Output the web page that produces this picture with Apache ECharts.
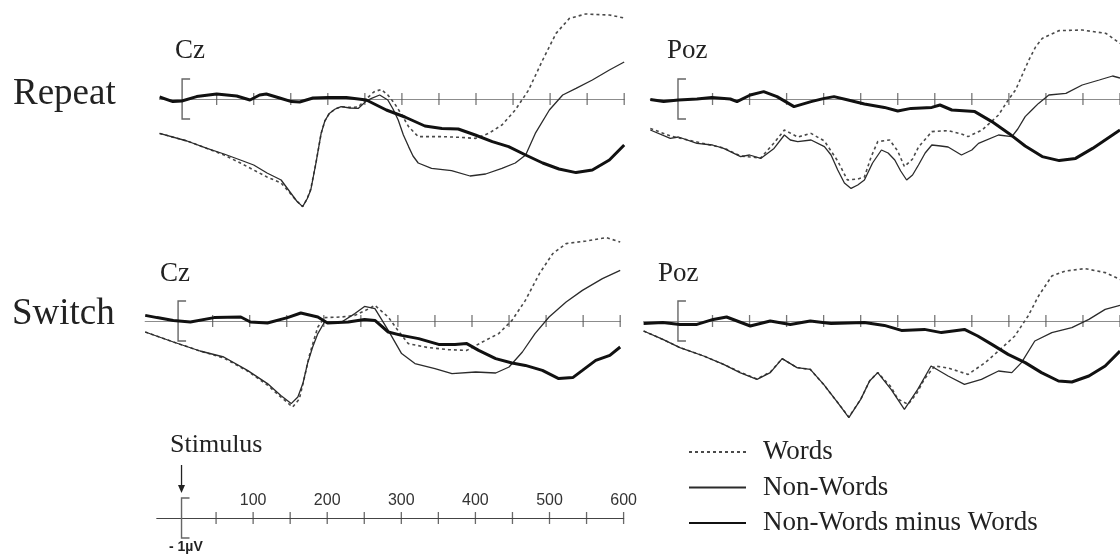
<!DOCTYPE html>
<html>
<head>
<meta charset="utf-8">
<script src="https://cdn.jsdelivr.net/npm/echarts/dist/echarts.min.js"></script>
<style>
  html, body { margin: 0; padding: 0; background: #ffffff; }
  #chart { width: 1120px; height: 560px; }
</style>
</head>
<body>
<div id="chart"></div>
<script>
// Grand-average ERP waveforms (ms, µV; positive up) for word / non-word targets.

// Time axis tick marks (ms) and the labelled ticks of the calibration axis
const tickTimes = [50, 100, 150, 200, 250, 300, 350, 400, 450, 500, 550, 600];
const scaleLabelTimes = [100, 200, 300, 400, 500, 600];
const bracketMicrovolts = 1;

// ---- Repeat, Cz ----
const repeatCzWords = [[-27,-1.72],[10,-2.1],[37,-2.47],[60,-2.8],[82,-3.2],[100,-3.55],[118,-3.9],[137,-4.2],[150,-4.75],[158,-5.1],[166,-5.38],[172,-5.0],[177,-4.5],[184,-3.2],[191,-1.72],[196,-1.1],[202,-0.72],[210,-0.5],[218,-0.38],[230,-0.42],[241,-0.4],[252,0.0],[262,0.35],[272,0.48],[281,0.2],[290,-0.22],[300,-0.8],[309,-1.38],[322,-1.88],[354,-1.88],[380,-1.92],[399,-1.97],[417,-1.72],[435,-1.3],[453,-0.55],[471,0.45],[490,1.95],[508,3.28],[526,4.03],[548,4.25],[580,4.2],[600,4.05]];
const repeatCzNonWords = [[-27,-1.72],[10,-2.1],[37,-2.47],[60,-2.75],[82,-3.05],[100,-3.3],[118,-3.7],[137,-4.05],[150,-4.7],[158,-5.1],[166,-5.38],[172,-5.0],[177,-4.55],[184,-3.2],[191,-1.72],[196,-1.1],[202,-0.72],[210,-0.5],[218,-0.38],[230,-0.45],[241,-0.47],[252,-0.1],[259,0.03],[270,0.2],[281,-0.05],[288,-0.5],[295,-1.05],[302,-1.8],[309,-2.38],[315,-2.85],[322,-3.2],[340,-3.47],[367,-3.58],[392,-3.85],[413,-3.75],[435,-3.47],[453,-3.2],[467,-2.8],[480,-1.72],[499,-0.55],[517,0.2],[535,0.53],[557,0.95],[580,1.45],[600,1.85]];
const repeatCzDiff = [[-27,0.1],[-9,-0.13],[3,-0.1],[23,0.12],[50,0.25],[77,0.15],[95,-0.05],[108,0.2],[117,0.25],[135,0.05],[151,-0.13],[162,-0.15],[180,0.05],[201,0.08],[225,0.08],[252,-0.05],[279,-0.55],[304,-0.9],[331,-1.35],[354,-1.47],[376,-1.5],[399,-1.8],[422,-2.13],[444,-2.38],[467,-2.8],[490,-3.2],[512,-3.5],[535,-3.68],[557,-3.55],[580,-3.05],[600,-2.3]];

// ---- Repeat, Poz ----
const repeatPozWords = [[-34,-1.47],[-7,-1.85],[29,-2.15],[65,-2.45],[88,-2.85],[115,-2.95],[133,-2.2],[147,-1.55],[165,-1.9],[183,-1.72],[201,-2.1],[219,-3.1],[232,-4.05],[246,-4.0],[255,-3.9],[264,-2.9],[273,-2.13],[289,-2.05],[300,-2.6],[309,-3.38],[320,-3.0],[328,-2.4],[346,-1.63],[368,-1.58],[386,-1.75],[395,-1.88],[414,-1.55],[436,-0.8],[450,0.0],[459,0.45],[468,1.2],[477,1.95],[486,2.6],[495,3.03],[518,3.42],[549,3.45],[581,3.28],[600,2.78]];
const repeatPozNonWords = [[-34,-1.55],[-7,-1.97],[4,-1.9],[29,-2.22],[50,-2.3],[65,-2.47],[88,-2.88],[100,-2.8],[115,-2.97],[133,-2.47],[147,-1.8],[155,-2.05],[165,-2.13],[183,-2.05],[201,-2.38],[210,-2.8],[219,-3.55],[228,-4.2],[237,-4.47],[246,-4.3],[255,-4.05],[266,-3.2],[278,-2.55],[287,-2.7],[296,-3.05],[304,-3.6],[312,-4.05],[320,-3.8],[328,-3.3],[337,-2.7],[346,-2.3],[358,-2.35],[368,-2.4],[386,-2.8],[400,-2.55],[409,-2.22],[436,-1.8],[454,-1.88],[462,-1.5],[472,-0.88],[481,-0.55],[490,-0.22],[504,0.2],[527,0.28],[549,0.7],[572,0.95],[590,1.15],[600,1.05]];
const repeatPozDiff = [[-34,-0.03],[-16,-0.13],[4,-0.05],[29,0.0],[49,0.08],[74,0.0],[83,-0.13],[101,0.2],[119,0.37],[137,0.12],[160,-0.38],[183,-0.13],[201,0.03],[214,0.12],[233,-0.05],[255,-0.25],[282,-0.42],[300,-0.6],[318,-0.47],[346,-0.42],[357,-0.3],[373,-0.55],[404,-0.63],[427,-1.13],[450,-1.72],[472,-2.35],[495,-2.88],[518,-3.08],[540,-2.97],[563,-2.47],[600,-1.55]];

// ---- Switch, Cz ----
const switchCzWords = [[-41,-0.55],[-3,-1.05],[33,-1.5],[65,-1.85],[97,-2.5],[124,-3.2],[142,-3.8],[158,-4.3],[167,-3.9],[174,-2.8],[180,-1.8],[187,-0.9],[192,-0.3],[201,0.17],[224,0.2],[242,0.28],[260,0.6],[269,0.78],[287,0.2],[300,-0.47],[314,-1.13],[341,-1.33],[368,-1.43],[393,-1.47],[414,-1.05],[436,-0.63],[454,0.03],[472,1.03],[491,2.37],[509,3.37],[527,3.87],[554,4.0],[581,4.17],[600,3.95]];
const switchCzNonWords = [[-41,-0.55],[-3,-1.05],[33,-1.5],[65,-1.8],[97,-2.47],[124,-3.13],[142,-3.72],[156,-4.13],[165,-3.8],[172,-3.1],[178,-2.13],[185,-1.3],[192,-0.63],[201,-0.05],[224,-0.05],[242,0.37],[255,0.73],[269,0.62],[287,-0.47],[305,-1.63],[323,-2.13],[350,-2.38],[373,-2.63],[405,-2.55],[432,-2.6],[450,-2.3],[468,-1.55],[485,-0.63],[504,0.2],[527,0.95],[549,1.53],[576,2.12],[600,2.53]];
const switchCzDiff = [[-41,0.28],[-25,0.17],[-3,0.03],[20,-0.05],[52,0.17],[88,0.2],[101,-0.05],[124,-0.1],[151,0.17],[169,0.4],[192,0.2],[205,-0.1],[233,-0.05],[255,0.08],[269,0.03],[287,-0.55],[305,-0.72],[328,-0.88],[355,-1.17],[377,-1.17],[393,-1.13],[409,-1.47],[432,-1.88],[454,-2.1],[472,-2.22],[495,-2.47],[517,-2.88],[536,-2.83],[549,-2.47],[567,-1.97],[586,-1.72],[600,-1.3]];

// ---- Switch, Poz ----
const switchPozWords = [[-43,-0.5],[-17,-0.92],[6,-1.33],[38,-1.75],[65,-2.17],[87,-2.55],[110,-2.9],[128,-2.55],[144,-1.88],[164,-2.33],[182,-2.42],[200,-3.17],[219,-4.08],[234,-4.8],[250,-3.92],[262,-3.0],[273,-2.58],[291,-3.3],[300,-3.9],[314,-4.17],[326,-3.6],[336,-2.9],[350,-2.25],[368,-2.35],[395,-2.67],[418,-2.08],[436,-1.5],[458,-0.75],[476,0.25],[490,1.25],[508,2.25],[526,2.5],[553,2.62],[580,2.42],[600,2.08]];
const switchPozNonWords = [[-43,-0.5],[-17,-0.92],[6,-1.33],[38,-1.75],[65,-2.17],[87,-2.58],[110,-2.92],[128,-2.58],[144,-1.88],[164,-2.33],[182,-2.42],[200,-3.17],[219,-4.08],[234,-4.83],[250,-3.92],[262,-3.0],[273,-2.58],[291,-3.42],[309,-4.42],[327,-3.42],[345,-2.25],[368,-2.75],[390,-3.17],[413,-2.92],[436,-2.5],[454,-2.58],[467,-2.08],[485,-1.0],[508,-0.58],[535,-0.33],[558,0.08],[580,0.58],[600,0.78]];
const switchPozDiff = [[-43,-0.12],[-17,-0.08],[6,-0.17],[29,-0.17],[51,0.08],[69,0.2],[101,-0.25],[128,0.0],[155,-0.17],[182,0.0],[210,-0.12],[255,-0.08],[282,-0.22],[305,-0.47],[336,-0.42],[359,-0.58],[390,-0.42],[408,-0.75],[427,-1.17],[449,-1.67],[472,-2.08],[494,-2.58],[517,-3.0],[535,-3.05],[558,-2.75],[580,-2.25],[600,-1.5]];

const SERIF = "'Liberation Serif', 'Times New Roman', serif";
const SANS = "'Liberation Sans', Arial, sans-serif";

// Panel layout: 0.741 px per ms, 20 px per µV
const panels = [
  { left: 159.6, top: 9,   width: 464.6, xMin: -27, words: repeatCzWords,  nonWords: repeatCzNonWords,  diff: repeatCzDiff },
  { left: 650.3, top: 9,   width: 469.8, xMin: -34, words: repeatPozWords, nonWords: repeatPozNonWords, diff: repeatPozDiff },
  { left: 145.2, top: 231, width: 475.0, xMin: -41, words: switchCzWords,  nonWords: switchCzNonWords,  diff: switchCzDiff },
  { left: 643.6, top: 231, width: 476.5, xMin: -43, words: switchPozWords, nonWords: switchPozNonWords, diff: switchPozDiff }
];

const grids = [], xAxes = [], yAxes = [], series = [];

// "[" calibration bracket at stimulus onset, optionally with the onset arrow above it
function bracketItem(withArrow) {
  return function (params, api) {
    const top = api.coord([0, bracketMicrovolts]);
    const bot = api.coord([0, -bracketMicrovolts]);
    const x = top[0] + 2.5;
    const children = [{
      type: 'polyline',
      shape: { points: [[x + 8, top[1]], [x, top[1]], [x, bot[1]], [x + 8, bot[1]]] },
      style: { stroke: '#666', lineWidth: 1.4, fill: null }
    }];
    if (withArrow) {
      const a0 = api.coord([0, 2.65]);
      const a1 = api.coord([0, 1.25]);
      children.push({
        type: 'line',
        shape: { x1: x, y1: a0[1], x2: x, y2: a1[1] - 6 },
        style: { stroke: '#222', lineWidth: 1.3 }
      });
      children.push({
        type: 'polygon',
        shape: { points: [[x - 3.5, a1[1] - 8], [x + 3.5, a1[1] - 8], [x, a1[1]]] },
        style: { fill: '#222' }
      });
    }
    return { type: 'group', children: children };
  };
}

panels.forEach(function (p, i) {
  grids.push({ left: p.left, top: p.top, width: p.width, height: 210 });
  xAxes.push({
    gridIndex: i, type: 'value', min: p.xMin, max: 600,
    axisLine: { show: true, onZero: true, lineStyle: { color: '#8c8c8c', width: 1.2 } },
    axisTick: { show: false }, axisLabel: { show: false }, splitLine: { show: false }
  });
  yAxes.push({ gridIndex: i, type: 'value', min: -6, max: 4.5, show: false });

  series.push({
    type: 'scatter', xAxisIndex: i, yAxisIndex: i, silent: true, z: 1,
    data: tickTimes.map(function (t) { return [t, 0]; }),
    symbol: 'rect', symbolSize: [1.3, 12], itemStyle: { color: '#555' }
  });
  series.push({
    type: 'custom', xAxisIndex: i, yAxisIndex: i, silent: true, z: 2,
    data: [[0, 0]], renderItem: bracketItem(false)
  });
  series.push({
    name: 'Words', type: 'line', xAxisIndex: i, yAxisIndex: i, data: p.words,
    symbol: 'none', showSymbol: false, z: 3,
    itemStyle: { color: '#4a4a4a' },
    lineStyle: { color: '#4a4a4a', width: 1.6, type: [3, 3] }
  });
  series.push({
    name: 'Non-Words', type: 'line', xAxisIndex: i, yAxisIndex: i, data: p.nonWords,
    symbol: 'none', showSymbol: false, z: 4,
    itemStyle: { color: '#2b2b2b' },
    lineStyle: { color: '#2b2b2b', width: 1.3 }
  });
  series.push({
    name: 'Non-Words minus Words', type: 'line', xAxisIndex: i, yAxisIndex: i, data: p.diff,
    symbol: 'none', showSymbol: false, z: 5,
    itemStyle: { color: '#111' },
    lineStyle: { color: '#111', width: 3 }
  });
});

// Calibration axis: stimulus onset, time in ms, 1 µV bracket.
// The grid's top edge is the 0 µV line so the time labels sit just above it.
const s = panels.length;
grids.push({ left: 156.8, top: 518, width: 466.8, height: 30 });
xAxes.push({
  gridIndex: s, type: 'value', min: -30, max: 600, position: 'top',
  axisLine: { show: true, onZero: false, lineStyle: { color: '#444', width: 1.2 } },
  axisTick: { show: false }, splitLine: { show: false },
  axisLabel: { show: true, customValues: scaleLabelTimes, margin: 9,
    fontFamily: SANS, fontSize: 16, color: '#333' }
});
yAxes.push({ gridIndex: s, type: 'value', min: -1.5, max: 0, show: false });
series.push({
  type: 'scatter', xAxisIndex: s, yAxisIndex: s, silent: true, z: 1, clip: false,
  data: tickTimes.map(function (t) { return [t, 0]; }),
  symbol: 'rect', symbolSize: [1.3, 12], itemStyle: { color: '#444' }
});
series.push({
  type: 'custom', xAxisIndex: s, yAxisIndex: s, silent: true, z: 2, clip: false,
  data: [[0, 0]], renderItem: bracketItem(true)
});

const titleStyle = function (size, weight, family) {
  return { fontFamily: family || SERIF, fontSize: size, fontWeight: weight || 'normal', color: '#222' };
};

const option = {
  animation: false,
  backgroundColor: '#ffffff',
  title: [
    { text: 'Repeat', left: 13, top: 76, padding: 0, textStyle: titleStyle(37) },
    { text: 'Switch', left: 12, top: 296, padding: 0, textStyle: titleStyle(37) },
    { text: 'Cz', left: 175, top: 37, padding: 0, textStyle: titleStyle(27) },
    { text: 'Poz', left: 667, top: 37, padding: 0, textStyle: titleStyle(27) },
    { text: 'Cz', left: 160, top: 260, padding: 0, textStyle: titleStyle(27) },
    { text: 'Poz', left: 658, top: 260, padding: 0, textStyle: titleStyle(27) },
    { text: 'Stimulus', left: 170, top: 432, padding: 0, textStyle: titleStyle(26) },
    { text: '- 1µV', left: 169, top: 540, padding: 0, textStyle: titleStyle(14, 'bold', SANS) }
  ],
  legend: {
    orient: 'vertical', left: 688, top: 438.5, padding: 0,
    itemWidth: 57, itemHeight: 12, itemGap: 8.5,
    itemStyle: { opacity: 0 },
    data: ['Words', 'Non-Words', 'Non-Words minus Words'],
    textStyle: { fontFamily: SERIF, fontSize: 27, color: '#222', padding: [0, 0, 0, 12] }
  },
  grid: grids,
  xAxis: xAxes,
  yAxis: yAxes,
  series: series
};

const chart = echarts.init(document.getElementById('chart'), null, { renderer: 'canvas' });
chart.setOption(option);
</script>
</body>
</html>
